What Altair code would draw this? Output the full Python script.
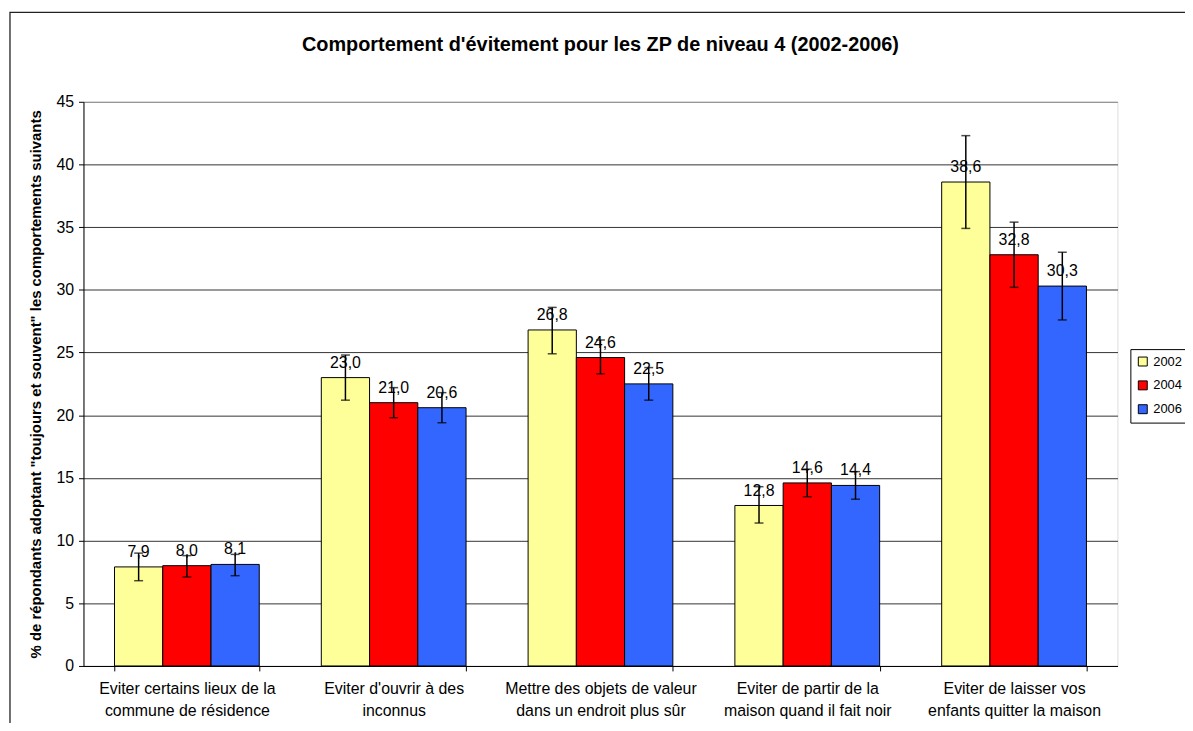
import altair as alt
import pandas as pd

categories = [
    "Eviter certains lieux de la|commune de résidence",
    "Eviter d'ouvrir à des|inconnus",
    "Mettre des objets de valeur|dans un endroit plus sûr",
    "Eviter de partir de la|maison quand il fait noir",
    "Eviter de laisser vos|enfants quitter la maison",
]
years = ["2002", "2004", "2006"]
colors = ["#FFFF99", "#FF0000", "#3366FF"]
chart_title = "Comportement d'évitement pour les ZP de niveau 4 (2002-2006)"

values_2002 = [7.9, 23.0, 26.8, 12.8, 38.6]
values_2004 = [8.0, 21.0, 24.6, 14.6, 32.8]
values_2006 = [8.1, 20.6, 22.5, 14.4, 30.3]

low_2002 = [6.8, 21.2, 24.9, 11.4, 34.9]
high_2002 = [9.0, 24.8, 28.6, 14.3, 42.3]
low_2004 = [7.1, 19.8, 23.3, 13.5, 30.2]
high_2004 = [8.8, 22.2, 26.0, 15.7, 35.4]
low_2006 = [7.2, 19.4, 21.2, 13.3, 27.6]
high_2006 = [8.9, 21.8, 23.8, 15.5, 33.0]

y_ticks = [0, 5, 10, 15, 20, 25, 30, 35, 40, 45]

series = {
    "2002": (values_2002, low_2002, high_2002),
    "2004": (values_2004, low_2004, high_2004),
    "2006": (values_2006, low_2006, high_2006),
}
rows = []
for yr in years:
    vals, lows, highs = series[yr]
    for c, v, lo, hi in zip(categories, vals, lows, highs):
        rows.append({"cat": c, "year": yr, "value": v, "low": lo, "high": hi,
                     "label": f"{v:.1f}".replace(".", ",")})
df = pd.DataFrame(rows)

FONT = "Liberation Sans"
W, H = 1041, 568

x = alt.X("cat:N", sort=categories,
          scale=alt.Scale(paddingInner=0.3, paddingOuter=0.15),
          axis=alt.Axis(title=None, labelAngle=0,
                        labelExpr="datum.value ? split(datum.value, '|') : ''",
                        tickBand="extent", tickSize=5, labelPadding=10, labelLimit=0,
                        labelLineHeight=22, labelFontSize=16, labelFont=FONT,
                        labelColor="black", domainColor="black", tickColor="black",
                        grid=False))
xo = alt.XOffset("year:N", sort=years, scale=alt.Scale(paddingInner=0, paddingOuter=0))
y = alt.Y("value:Q", scale=alt.Scale(domain=[0, 45], nice=False, zero=True),
          axis=alt.Axis(values=y_ticks,
                        title="% de répondants adoptant \"toujours et souvent\" les comportements suivants",
                        titleFont=FONT, titleFontSize=15, titleFontWeight="bold", titleColor="black",
                        titlePadding=12, labelFont=FONT, labelFontSize=16, labelColor="black",
                        labelPadding=5, tickSize=5, tickColor="black", domainColor="black",
                        gridColor={"condition": {"test": "datum.value === 45", "value": "#808080"},
                                   "value": "#333333"},
                        gridWidth=1))

frame = alt.Chart(pd.DataFrame({"a": [0]})).mark_rect(
    fill=None, stroke="#222222", strokeWidth=1.3
).encode(x=alt.value(-74), x2=alt.value(1400), y=alt.value(-90), y2=alt.value(900))

title = alt.Chart(pd.DataFrame({"t": [chart_title]})).mark_text(
    font=FONT, fontSize=20, fontWeight="bold", color="black", align="center",
    baseline="alphabetic"
).encode(x=alt.value(W / 2), y=alt.value(-51), text="t:N")

base = alt.Chart(df)
bars = base.mark_bar(stroke="black", strokeWidth=1).encode(
    x=x, xOffset=xo, y=y,
    color=alt.Color("year:N", sort=years,
                    scale=alt.Scale(domain=years, range=colors),
                    legend=alt.Legend(title=None, orient="none", legendX=1054, legendY=249,
                                      symbolType="square", symbolSize=81, symbolStrokeColor="black",
                                      symbolStrokeWidth=1, labelFont=FONT, labelFontSize=13,
                                      labelColor="black", labelOffset=4, rowPadding=10,
                                      padding=6, strokeColor="black", fillColor="white")),
)
labels = base.mark_text(baseline="alphabetic", dy=-10, fontSize=16, font=FONT, color="black").encode(
    x=x, xOffset=xo, y=y, text="label:N")
rules = base.mark_rule(color="black", strokeWidth=1.5).encode(
    x=x, xOffset=xo, y="low:Q", y2="high:Q")
cap_low = base.mark_tick(color="black", thickness=1.5, size=9, orient="horizontal").encode(
    x=x, xOffset=xo, y="low:Q")
cap_high = base.mark_tick(color="black", thickness=1.5, size=9, orient="horizontal").encode(
    x=x, xOffset=xo, y="high:Q")

chart = alt.layer(frame, title, bars, labels, rules, cap_low, cap_high).properties(
    width=W, height=H,
    autosize=alt.AutoSizeParams(type="none"),
    padding={"left": 76, "top": 92, "right": 68, "bottom": 55},
).configure_view(stroke="#808080", strokeWidth=1.5).configure(background="white")

chart.save("out.html", embed_options={"renderer": "svg", "actions": False})
